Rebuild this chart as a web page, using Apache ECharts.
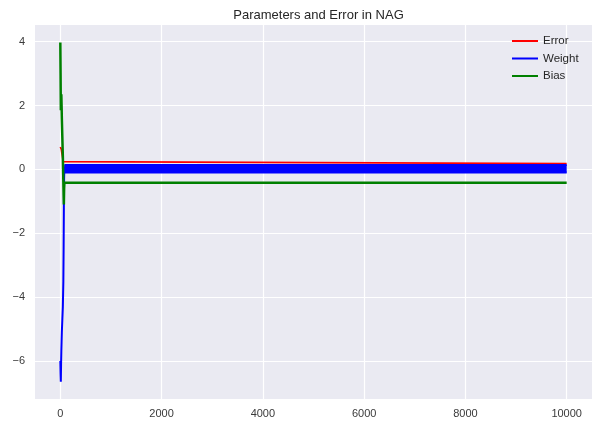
<!DOCTYPE html>
<html>
<head>
<meta charset="utf-8">
<script src="https://cdn.jsdelivr.net/npm/echarts@6/dist/echarts.min.js"></script>
<style>html,body{margin:0;padding:0;background:#fff}#c{width:605px;height:440px}</style>
</head>
<body>
<div id="c"></div>
<script>
// ---- data ----
var title = 'Parameters and Error in NAG';
var xTicks = [0, 2000, 4000, 6000, 8000, 10000];
var yTicks = [-6, -4, -2, 0, 2, 4];

// iterations of the early transient part, then the last iteration
var iterTransient = [0, 5, 10, 15, 20, 25, 30, 40, 50, 60, 65, 70, 75, 80];
var iterEnd = 10000;

var errorTransient = [0.70, 0.69, 0.68, 0.66, 0.62, 0.58, 0.52, 0.42, 0.32, 0.24, 0.21, 0.19, 0.18, 0.18];
var errorSteady = 0.18;

var weightTransient = [-6.0, -6.4, -6.65, -6.1, -5.7, -5.4, -5.1, -4.7, -4.3, -3.5, -2.5, -1.2, -0.3, 0.1];
var weightBandUpper = 0.14;   // oscillation envelope of Weight after convergence
var weightBandLower = -0.10;

var biasTransient = [3.97, 3.0, 1.85, 1.8, 2.35, 2.0, 1.6, 1.0, 0.4, -0.4, -0.8, -1.1, -0.6, -0.42];
var biasSteady = -0.42;

var xMin = -500, xMax = 10500, yMin = -7.19, yMax = 4.52;

// ---- build series data ----
function pairs(xs, ys) { return xs.map(function (x, i) { return [x, ys[i]]; }); }
var errorData = pairs(iterTransient, errorTransient).concat([[iterEnd, errorSteady]]);
var biasData = pairs(iterTransient, biasTransient).concat([[iterEnd, biasSteady]]);
var weightData = pairs(iterTransient, weightTransient);
var bandStart = iterTransient[iterTransient.length - 1];
var weightUpperData = [[bandStart, weightBandUpper], [iterEnd, weightBandUpper]];
var weightLowerData = [[bandStart, weightBandLower], [iterEnd, weightBandLower]];

function fmt(v) { return String(v).replace('-', '\u2212'); }

var FONT = 'Liberation Sans, Arial, sans-serif';
var chart = echarts.init(document.getElementById('c'), null, {renderer: 'canvas'});
chart.setOption({
  animation: false,
  backgroundColor: '#ffffff',
  title: {
    text: title, left: 313.5, textAlign: 'center', top: 4,
    textStyle: {fontFamily: FONT, fontSize: 13, fontWeight: 'normal', color: '#262626'}
  },
  legend: {
    data: ['Error', 'Weight', 'Bias'],
    orient: 'vertical', left: 507, top: 29,
    icon: 'rect', itemWidth: 26, itemHeight: 2, itemGap: 3.5,
    textStyle: {fontFamily: FONT, fontSize: 11.5, color: '#262626', padding: [0, 0, 0, 0], lineHeight: 14}
  },
  grid: {left: 35, right: 13, top: 25, bottom: 41, show: true, backgroundColor: '#EAEAF2', borderWidth: 0},
  xAxis: {
    type: 'value', min: xMin, max: xMax,
    axisLine: {show: false}, axisTick: {show: false, customValues: xTicks},
    axisLabel: {customValues: xTicks, formatter: fmt, fontFamily: FONT, fontSize: 11, color: '#3a3a3a', margin: 9},
    splitLine: {show: true, lineStyle: {color: '#ffffff', width: 1.2}}
  },
  yAxis: {
    type: 'value', min: yMin, max: yMax,
    axisLine: {show: false}, axisTick: {show: false, customValues: yTicks},
    axisLabel: {customValues: yTicks, formatter: fmt, fontFamily: FONT, fontSize: 11, color: '#3a3a3a', margin: 10},
    splitLine: {show: true, lineStyle: {color: '#ffffff', width: 1.2}}
  },
  series: [
    {name: 'Error', type: 'line', data: errorData, symbol: 'none', color: '#ff0000',
     lineStyle: {color: '#ff0000', width: 1.7}},
    {name: 'Weight', type: 'line', data: weightData, symbol: 'none', color: '#0000ff',
     lineStyle: {color: '#0000ff', width: 2}},
    {name: 'Weight', type: 'line', data: weightUpperData, symbol: 'none', color: '#0000ff',
     lineStyle: {color: '#0000ff', width: 2},
     areaStyle: {color: '#0000ff', opacity: 1, origin: weightBandLower}},
    {name: 'Weight', type: 'line', data: weightLowerData, symbol: 'none', color: '#0000ff',
     lineStyle: {color: '#0000ff', width: 2}},
    {name: 'Bias', type: 'line', data: biasData, symbol: 'none', color: '#008000',
     lineStyle: {color: '#008000', width: 2.5}}
  ]
});
</script>
</body>
</html>
